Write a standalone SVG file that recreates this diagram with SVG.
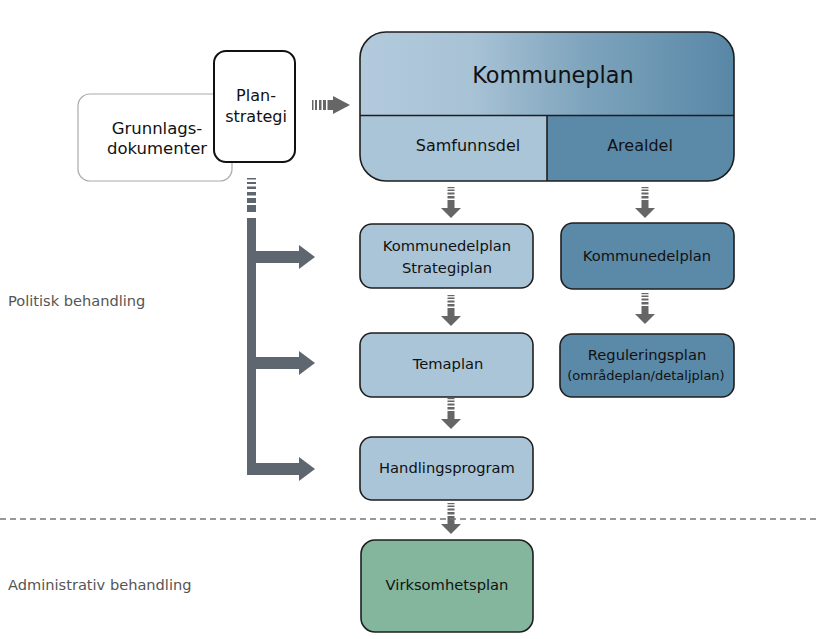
<svg xmlns="http://www.w3.org/2000/svg" width="818" height="639" viewBox="0 0 818 639">
<style>
text{font-family:"DejaVu Sans",Verdana,sans-serif;fill:#111;text-anchor:middle}
.box{stroke:#1e1e1e;stroke-width:1.6}
.light{fill:#abc5d8}
.dark{fill:#5b89a8}
.arr{fill:#666}
.br{fill:#5e6670}
.side{fill:#555;text-anchor:start;font-size:14.6px}
.t{font-size:14.7px}
</style>
<defs>
<linearGradient id="kg" x1="0" y1="0" x2="1" y2="0">
<stop offset="0" stop-color="#b2cadc"/>
<stop offset="0.3" stop-color="#a8c2d5"/>
<stop offset="0.6" stop-color="#7ea4bd"/>
<stop offset="1" stop-color="#5887a6"/>
</linearGradient>
<clipPath id="kc"><rect x="360" y="32" width="374" height="149" rx="26"/></clipPath>
<g id="down">
<rect x="-3.5" y="0" width="7" height="1.2"/>
<rect x="-3.5" y="2.5" width="7" height="1.5"/>
<rect x="-3.5" y="5.5" width="7" height="2"/>
<rect x="-3.5" y="9" width="7" height="2.5"/>
<rect x="-3.5" y="13" width="7" height="9"/>
<polygon points="-10,21 10,21 0,31"/>
</g>
</defs>

<g id="grunnlag">
<rect x="78" y="94" width="154" height="87" rx="12" fill="#fff" stroke="#aaa" stroke-width="1.2"/>
<text x="157" y="134" font-size="16.5">Grunnlags-</text>
<text x="157" y="154" font-size="16.5">dokumenter</text>
</g>

<g id="planstrategi">
<rect x="214" y="51" width="81" height="111" rx="12" fill="#fff" stroke="#111" stroke-width="2"/>
<text x="256" y="101" font-size="16">Plan-</text>
<text x="256" y="122" font-size="16">strategi</text>
</g>

<g id="kommuneplan">
<g clip-path="url(#kc)">
<rect x="360" y="32" width="374" height="84" fill="url(#kg)"/>
<rect x="360" y="116" width="187" height="65" class="light"/>
<rect x="547" y="116" width="187" height="65" class="dark"/>
</g>
<line x1="360" y1="115.5" x2="734" y2="115.5" stroke="#1e1e1e" stroke-width="1.6"/>
<line x1="547" y1="115.5" x2="547" y2="181" stroke="#1e1e1e" stroke-width="1.6"/>
<rect x="360" y="32" width="374" height="149" rx="26" fill="none" class="box"/>
<text x="553" y="83" font-size="22.4">Kommuneplan</text>
<text x="468" y="151" font-size="16">Samfunnsdel</text>
<text x="640" y="151" font-size="16">Arealdel</text>
</g>

<g id="kdp-strategi">
<rect x="360" y="224" width="173" height="64" rx="12" class="box light"/>
<text x="447" y="251" class="t">Kommunedelplan</text>
<text x="447" y="273" class="t">Strategiplan</text>
</g>

<g id="kdp-areal">
<rect x="561" y="223" width="173" height="66" rx="12" class="box dark"/>
<text x="647" y="261" class="t">Kommunedelplan</text>
</g>

<g id="regulering">
<rect x="560" y="334" width="174" height="63" rx="12" class="box dark"/>
<text x="647" y="360" class="t">Reguleringsplan</text>
<text x="646" y="380" font-size="13">(områdeplan/detaljplan)</text>
</g>

<g id="temaplan">
<rect x="360" y="333" width="173" height="64" rx="12" class="box light"/>
<text x="448" y="369" class="t">Temaplan</text>
</g>

<g id="handlingsprogram">
<rect x="360" y="437" width="173" height="63" rx="12" class="box light"/>
<text x="447" y="473" class="t">Handlingsprogram</text>
</g>

<g id="virksomhetsplan">
<rect x="361" y="540" width="172" height="92" rx="14" fill="#84b59d" class="box"/>
<text x="447" y="590" class="t">Virksomhetsplan</text>
</g>

<g id="connectors">
<g class="arr">
<rect x="312" y="100" width="1.5" height="10"/>
<rect x="315" y="100" width="2" height="10"/>
<rect x="319" y="100" width="2.5" height="10"/>
<rect x="323" y="100" width="3" height="10"/>
<rect x="327.5" y="100" width="6" height="10"/>
<polygon points="333,96 350,105 333,114"/>
</g>
<use href="#down" x="451" y="187" class="arr"/>
<use href="#down" x="645" y="187" class="arr"/>
<use href="#down" x="451" y="295" class="arr"/>
<use href="#down" x="645" y="293" class="arr"/>
<use href="#down" x="451" y="398" class="arr"/>
<use href="#down" x="451" y="503" class="arr"/>
<g class="br">
<rect x="247" y="178" width="9" height="1.5"/>
<rect x="247" y="182" width="9" height="2"/>
<rect x="247" y="186.5" width="9" height="2.5"/>
<rect x="247" y="192" width="9" height="3.5"/>
<rect x="247" y="198" width="9" height="5"/>
<rect x="247" y="205" width="9" height="7"/>
<rect x="247" y="218" width="9" height="257"/>
<rect x="256" y="251" width="44" height="12"/>
<polygon points="299,245 315,257 299,269"/>
<rect x="256" y="357" width="44" height="12"/>
<polygon points="299,351 315,363 299,375"/>
<rect x="256" y="463" width="44" height="12"/>
<polygon points="299,457 315,469 299,481"/>
</g>
<line x1="0" y1="519" x2="818" y2="519" stroke="#777" stroke-width="1.3" stroke-dasharray="6,4"/>
</g>

<text x="8" y="306" class="side">Politisk behandling</text>
<text x="8" y="590" class="side">Administrativ behandling</text>
</svg>
